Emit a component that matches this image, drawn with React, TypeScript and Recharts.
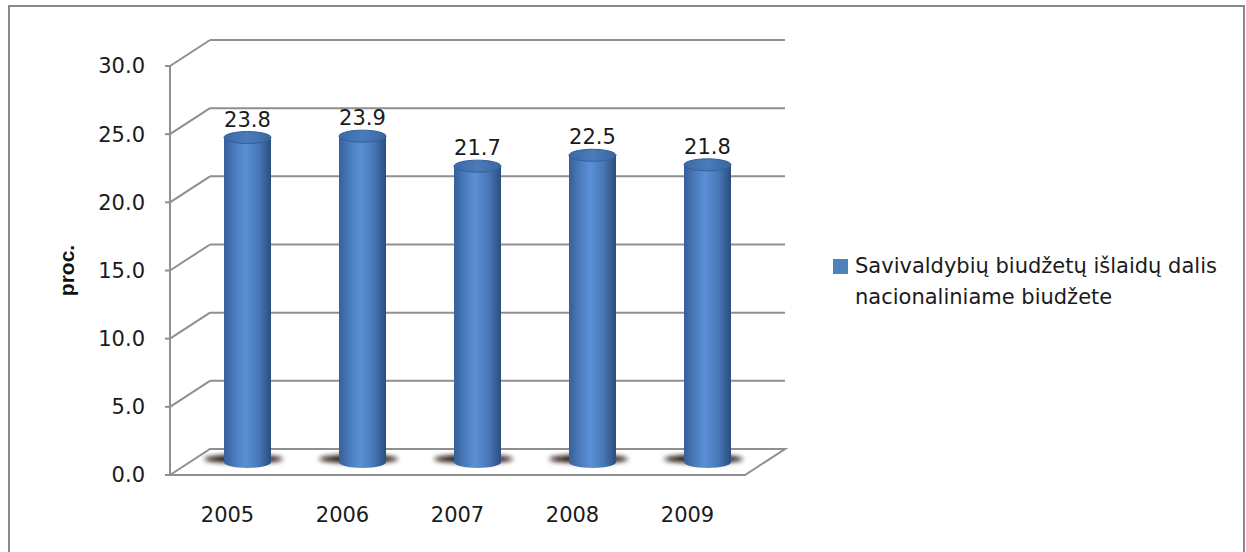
import { Bar, BarChart, CartesianGrid, LabelList, XAxis, YAxis } from "recharts";

const years = ["2005", "2006", "2007", "2008", "2009"];
const shares = [23.8, 23.9, 21.7, 22.5, 21.8];
const yTicks = [0, 5, 10, 15, 20, 25, 30];
const legendLines = ["Savivaldybių biudžetų išlaidų dalis", "nacionaliniame biudžete"];
const yTitle = "proc.";

const data = years.map((year, i) => ({ year, share: shares[i] }));

// depth of the 3D box: back wall sits this far right/up of the front plane
const DEPTH_X = 40;
const DEPTH_Y = -26;
const GRID = "#8f8f8f";
const FONT = "'DejaVu Sans', sans-serif";

const wallLine = (p: any) => {
  const { x1, x2, y1, y, height, index } = p;
  const isFloor = typeof y === "number" && typeof height === "number" ? Math.abs(y1 - (y + height)) < 1 : index === 0;
  if (isFloor) {
    return (
      <polygon
        key={`wall-${index}`}
        points={`${x1},${y1} ${x1 + DEPTH_X},${y1 + DEPTH_Y} ${x2 + DEPTH_X},${y1 + DEPTH_Y} ${x2},${y1}`}
        fill="#fff"
        stroke={GRID}
        strokeWidth={2}
      />
    );
  }
  return (
    <g key={`wall-${index}`}>
      <line x1={x1} y1={y1} x2={x1 + DEPTH_X} y2={y1 + DEPTH_Y} stroke={GRID} strokeWidth={2} />
      <line x1={x1 + DEPTH_X} y1={y1 + DEPTH_Y} x2={x2 + DEPTH_X} y2={y1 + DEPTH_Y} stroke={GRID} strokeWidth={2} />
    </g>
  );
};

const Cylinder = (p: any) => {
  const { x, y, width, height } = p;
  const rx = width / 2;
  const ry = 6;
  const cx = x + rx + DEPTH_X / 2;
  const top = y + DEPTH_Y / 2;
  const bottom = y + height + DEPTH_Y / 2;
  return (
    <g>
      <ellipse cx={cx - 4} cy={bottom - 3} rx={rx + 16} ry={4} fill="#1a0a00" filter="url(#floorShadow)" />
      <path
        d={`M${cx - rx},${top} L${cx - rx},${bottom} A${rx},${ry} 0 0 0 ${cx + rx},${bottom} L${cx + rx},${top} Z`}
        fill="url(#cylBody)"
      />
      <ellipse cx={cx} cy={top} rx={rx} ry={ry} fill="url(#cylTop)" stroke="#34609a" strokeWidth={1} />
    </g>
  );
};

const valueLabel = (p: any) => {
  const { x, y, width, value } = p;
  return (
    <text x={x + width / 2 + DEPTH_X / 2} y={y + DEPTH_Y / 2 - 11} textAnchor="middle" fontFamily={FONT} fontSize={21} fill="#1a1a1a">
      {Number(value).toFixed(1)}
    </text>
  );
};

const axisTitle = (p: any) => {
  const vb = p.viewBox;
  const cy = vb.y + vb.height / 2;
  return (
    <text x={66} y={cy} transform={`rotate(-90 66 ${cy})`} textAnchor="middle" dominantBaseline="central" fontFamily="'Liberation Sans', sans-serif" fontWeight="bold" fontSize={21} fill="#111">
      {yTitle}
    </text>
  );
};

export default function App() {
  return (
    <div style={{ position: "absolute", left: 0, top: 0, width: 1246, height: 552, overflow: "hidden", background: "#fff" }}>
      <div style={{ position: "absolute", left: 8, top: 5, width: 1237, height: 600, border: "2px solid #8a8a8a", boxSizing: "border-box" }} />
      <div style={{ position: "absolute", left: 0, top: 0 }}>
        <BarChart width={1246} height={552} data={data} margin={{ top: 66, right: 501, bottom: 17, left: 50 }} barSize={47}>
          <defs>
            <linearGradient id="cylBody" x1="0" y1="0" x2="1" y2="0">
              <stop offset="0%" stopColor="#35609a" />
              <stop offset="20%" stopColor="#4878b8" />
              <stop offset="45%" stopColor="#5b90d6" />
              <stop offset="75%" stopColor="#4676b5" />
              <stop offset="100%" stopColor="#2a4d7e" />
            </linearGradient>
            <linearGradient id="cylTop" x1="0" y1="0" x2="1" y2="0">
              <stop offset="0%" stopColor="#3c69a6" />
              <stop offset="50%" stopColor="#4a7bbb" />
              <stop offset="100%" stopColor="#3a669f" />
            </linearGradient>
            <filter id="floorShadow" x="-30%" y="-150%" width="160%" height="400%">
              <feGaussianBlur stdDeviation="2.4" />
            </filter>
          </defs>
          <CartesianGrid vertical={false} horizontal={wallLine} />
          <XAxis dataKey="year" axisLine={false} tickLine={false} tickSize={0} tickMargin={32} height={60} tick={{ fontFamily: FONT, fontSize: 21, fill: "#1a1a1a" }} />
          <YAxis
            domain={[0, 30]}
            ticks={yTicks}
            interval={0}
            width={120}
            tickFormatter={(v: number) => v.toFixed(1)}
            axisLine={{ stroke: GRID, strokeWidth: 2 }}
            tickLine={{ stroke: GRID, strokeWidth: 2 }}
            tickSize={5}
            tickMargin={20}
            tick={{ fontFamily: FONT, fontSize: 21, fill: "#1a1a1a" }}
            label={{ content: axisTitle }}
          />
          <Bar dataKey="share" shape={Cylinder} isAnimationActive={false}>
            <LabelList dataKey="share" content={valueLabel} />
          </Bar>
        </BarChart>
      </div>
      <div style={{ position: "absolute", left: 833, top: 251, fontFamily: FONT, fontSize: 21, color: "#1a1a1a", lineHeight: "31px" }}>
        <div style={{ position: "absolute", left: 0, top: 8, width: 15, height: 15, background: "#4f81bd" }} />
        <div style={{ marginLeft: 22, whiteSpace: "nowrap" }}>
          {legendLines.map((line) => (
            <div key={line}>{line}</div>
          ))}
        </div>
      </div>
    </div>
  );
}
